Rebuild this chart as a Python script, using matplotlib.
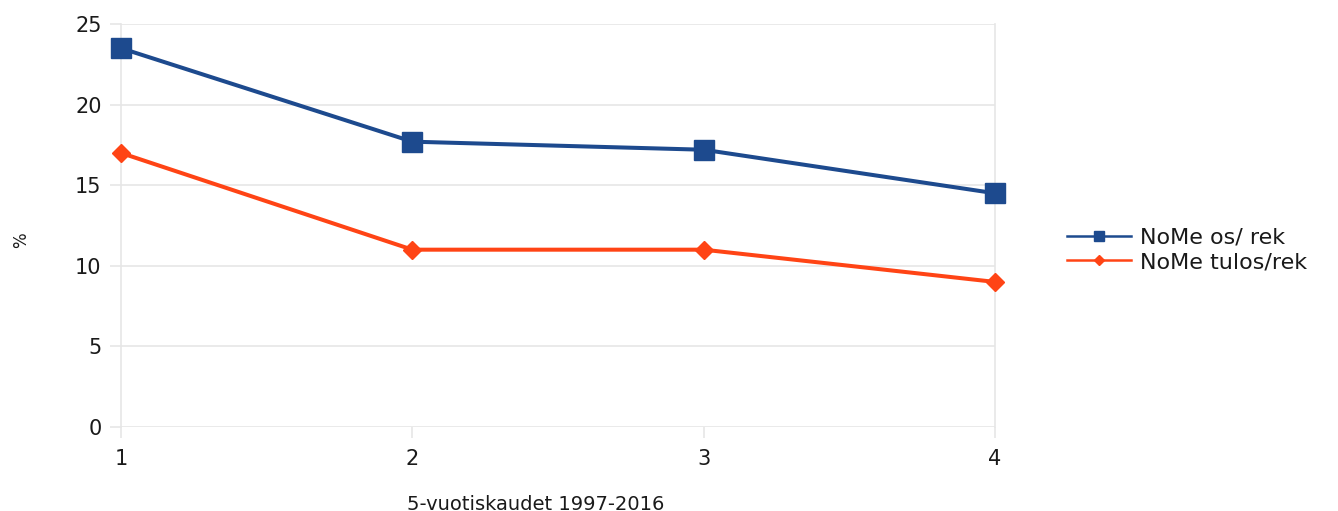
import matplotlib
matplotlib.use('Agg')
import matplotlib.pyplot as plt
from matplotlib.lines import Line2D

plt.rcParams['font.family'] = ['DejaVu Sans']

periods = [1, 2, 3, 4]
os_rek = [23.5, 17.7, 17.2, 14.5]
tulos_rek = [17.0, 11.0, 11.0, 9.0]
series_names = ['NoMe os/ rek', 'NoMe tulos/rek']
yticks = [0, 5, 10, 15, 20, 25]

blue = '#1d4a8e'
red = '#ff4415'
grid = '#e6e6e6'
txt = '#1a1a1a'

fig = plt.figure(figsize=(13.38, 5.11), dpi=100)
ax = fig.add_axes([121 / 1338, 1 - 427 / 511, (995 - 121) / 1338, (427 - 24) / 511])

ax.plot(periods, os_rek, color=blue, lw=2.9, marker='s', ms=14,
        clip_on=False, zorder=3)
ax.plot(periods, tulos_rek, color=red, lw=2.9, marker='D', ms=9,
        clip_on=False, zorder=3)

ax.set_xlim(1, 4)
ax.set_ylim(0, 25)
ax.set_xticks(periods)
ax.set_yticks(yticks)
ax.yaxis.grid(True, color=grid, lw=1.2)
ax.set_axisbelow(True)
for s in ['top', 'bottom']:
    ax.spines[s].set_visible(False)
for s in ['left', 'right']:
    ax.spines[s].set_color(grid)
    ax.spines[s].set_linewidth(1.2)
ax.tick_params(axis='both', colors=grid, length=8, width=1.2,
               labelcolor=txt, labelsize=15)
ax.tick_params(axis='y', pad=6)
ax.tick_params(axis='x', pad=8)

fig.text(536 / 1338, 1 - 504 / 511, '5-vuotiskaudet 1997-2016',
         ha='center', va='center', fontsize=14, color=txt)
fig.text(21 / 1338, 1 - 240 / 511, '%', rotation=90,
         ha='center', va='center', fontsize=12, color=txt)

handles = [
    Line2D([], [], color=blue, lw=1.8, marker='s', ms=7),
    Line2D([], [], color=red, lw=1.8, marker='D', ms=5),
]
fig.legend(handles, series_names, loc='center left',
           bbox_to_anchor=(1047 / 1338, 1 - 250 / 511),
           frameon=False, fontsize=16, handlelength=2.9, handletextpad=0.4,
           labelspacing=0.2, labelcolor=txt)

fig.savefig('out.png', dpi=100, facecolor='white')
